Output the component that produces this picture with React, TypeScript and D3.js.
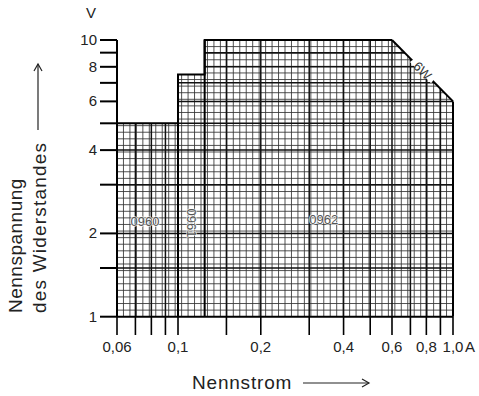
import React from 'react'
import * as d3 from 'd3'

// axis ticks (A and V)
const currentTicks = [0.06, 0.07, 0.08, 0.09, 0.1, 0.15, 0.2, 0.3, 0.4, 0.5, 0.6, 0.7, 0.8, 0.9, 1.0]
const currentLabels = [0.06, 0.1, 0.2, 0.4, 0.6, 0.8, 1.0]
const voltTicks = [1, 1.5, 2, 3, 4, 5, 6, 7, 8, 9, 10]
const voltLabels = [1, 2, 4, 6, 8, 10]

// outline of the covered range
const edgeI = [0.06, 0.06, 0.1, 0.1, 0.125, 0.125, 0.6, 1.0, 1.0]
const edgeV = [1, 5, 5, 7.5, 7.5, 10, 10, 6, 1]

// dividers between the types
const dividerI = [0.1, 0.125]
const dividerTop = [7.5, 10]

// type labels
const typeNames = ['0960', '0961', '0962']
const typeI = [0.0758, 0.1122, 0.339]
const typeV = [2.2, 2.18, 2.24]
const typeRot = [0, 90, 0]

// power limit
const powerI = [0.6, 1.0]
const powerV = [10, 6]

const W = 479
const H = 396
const font = 'Liberation Sans, Arial, Helvetica, sans-serif'

const fmt = (v: number) => v.toFixed(v < 0.1 ? 2 : 1).replace('.', ',')

export default function App() {
  const x = d3.scaleLog().domain([0.06, 1]).range([117, 453])
  const y = d3.scaleLog().domain([1, 10]).range([316.7, 40])

  const outline = d3.line<number>()
    .x(i => x(edgeI[i]))
    .y(i => y(edgeV[i]))(d3.range(edgeI.length)) + 'Z'

  // graph-paper grid, evenly spaced on the log axes
  const nx = 52
  const ny = 42
  const gridX = d3.range(nx + 1).map(k => 0.06 * Math.pow(1 / 0.06, k / nx))
  const gridY = d3.range(ny + 1).map(k => Math.pow(10, k / ny))

  const px0 = x(powerI[0]), py0 = y(powerV[0])
  const px1 = x(powerI[1]), py1 = y(powerV[1])
  const lerp = (t: number) => [px0 + (px1 - px0) * t, py0 + (py1 - py0) * t]
  const ang = Math.atan2(py1 - py0, px1 - px0) * 180 / Math.PI
  const [ga0x, ga0y] = lerp(0.36)
  const [ga1x, ga1y] = lerp(0.64)
  const [mx, my] = lerp(0.5)

  return (
    <svg width={W} height={H} style={{ position: 'absolute', left: 0, top: 0, background: '#fff' }} fontFamily={font}>
      <defs>
        <clipPath id="area">
          <path d={outline} />
        </clipPath>
      </defs>

      <g clipPath="url(#area)">
        {gridX.map((v, i) => (
          <line key={'gx' + i} x1={x(v)} x2={x(v)} y1={y(1)} y2={y(10)} stroke="#333" strokeWidth={0.85} />
        ))}
        {gridY.map((v, i) => (
          <line key={'gy' + i} x1={x(0.06)} x2={x(1)} y1={y(v)} y2={y(v)} stroke="#333" strokeWidth={0.85} />
        ))}
        {currentTicks.map(v => (
          <line key={'mx' + v} x1={x(v)} x2={x(v)} y1={y(1)} y2={y(10)} stroke="#111" strokeWidth={1.5} />
        ))}
        {voltTicks.map(v => (
          <line key={'my' + v} x1={x(0.06)} x2={x(1)} y1={y(v)} y2={y(v)} stroke="#111" strokeWidth={1.5} />
        ))}
      </g>

      {/* outline without the power edge */}
      <path
        d={d3.line<number>().x(i => x(edgeI[i])).y(i => y(edgeV[i]))(d3.range(0, 7))!}
        fill="none" stroke="#000" strokeWidth={2}
      />
      <path
        d={d3.line<number>().x(i => x(edgeI[i])).y(i => y(edgeV[i]))(d3.range(7, 9))!}
        fill="none" stroke="#000" strokeWidth={2}
      />
      {dividerI.map((v, i) => (
        <line key={'dv' + i} x1={x(v)} x2={x(v)} y1={y(1)} y2={y(dividerTop[i])} stroke="#000" strokeWidth={2} />
      ))}

      {/* 6 W limit */}
      <line x1={px0} y1={py0} x2={ga0x} y2={ga0y} stroke="#000" strokeWidth={2} />
      <line x1={ga1x} y1={ga1y} x2={px1} y2={py1} stroke="#000" strokeWidth={2} />
      <polygon
        points={`${ga0x - 4},${ga0y} ${ga0x + 4},${ga0y - 6} ${ga1x + 6},${ga1y - 4} ${ga1x},${ga1y + 4}`}
        fill="#fff"
      />
      <text x={mx} y={my} transform={`rotate(${ang} ${mx} ${my})`} textAnchor="middle" dominantBaseline="central"
        fontSize={13} fill="#333">6W</text>

      {/* type names */}
      {typeNames.map((t, i) => (
        <text key={t} x={x(typeI[i])} y={y(typeV[i])} textAnchor="middle" dominantBaseline="central"
          transform={`rotate(${typeRot[i]} ${x(typeI[i])} ${y(typeV[i])})`}
          fontSize={13} fill="#555" stroke="#fff" strokeWidth={1.5} strokeOpacity={0.8} paintOrder="stroke">{t}</text>
      ))}

      {/* axes */}
      <line x1={x(0.06)} x2={x(0.06)} y1={y(10)} y2={y(1)} stroke="#000" strokeWidth={2} />
      <line x1={x(0.06)} x2={x(1)} y1={y(1)} y2={y(1)} stroke="#000" strokeWidth={2} />

      {voltTicks.map(v => (
        <line key={'yt' + v} x1={100} x2={x(0.06)} y1={y(v)} y2={y(v)} stroke="#000" strokeWidth={2} />
      ))}
      {voltLabels.map(v => (
        <text key={'yl' + v} x={97} y={y(v) + 5} textAnchor="end" fontSize={15} fill="#222">{v}</text>
      ))}
      <text x={91} y={18} textAnchor="middle" fontSize={15} fill="#222">V</text>

      {currentTicks.map(v => (
        <line key={'xt' + v} x1={x(v)} x2={x(v)} y1={y(1)} y2={335} stroke="#000" strokeWidth={1.6} />
      ))}
      {currentLabels.map(v => (
        <text key={'xl' + v} x={x(v)} y={352} textAnchor="middle" fontSize={15} fill="#222">{fmt(v)}</text>
      ))}
      <text x={x(1) + 12} y={352} fontSize={15} fill="#222">A</text>

      {/* axis titles */}
      <text x={192} y={389} fontSize={19} letterSpacing={0.8} fill="#222">Nennstrom</text>
      <line x1={303} x2={369} y1={383} y2={383} stroke="#222" strokeWidth={1.2} />
      <path d="M362,379 L369,383 L362,387" fill="none" stroke="#222" strokeWidth={1.2} />

      <g transform="translate(22,313) rotate(-90)">
        <text x={0} y={0} fontSize={19} letterSpacing={0.5} fill="#222">Nennspannung</text>
        <text x={0} y={24} fontSize={19} letterSpacing={1.2} fill="#222">des Widerstandes</text>
      </g>
      <line x1={38} x2={38} y1={130} y2={64} stroke="#222" strokeWidth={1.2} />
      <path d="M34,71 L38,64 L42,71" fill="none" stroke="#222" strokeWidth={1.2} />
    </svg>
  )
}
